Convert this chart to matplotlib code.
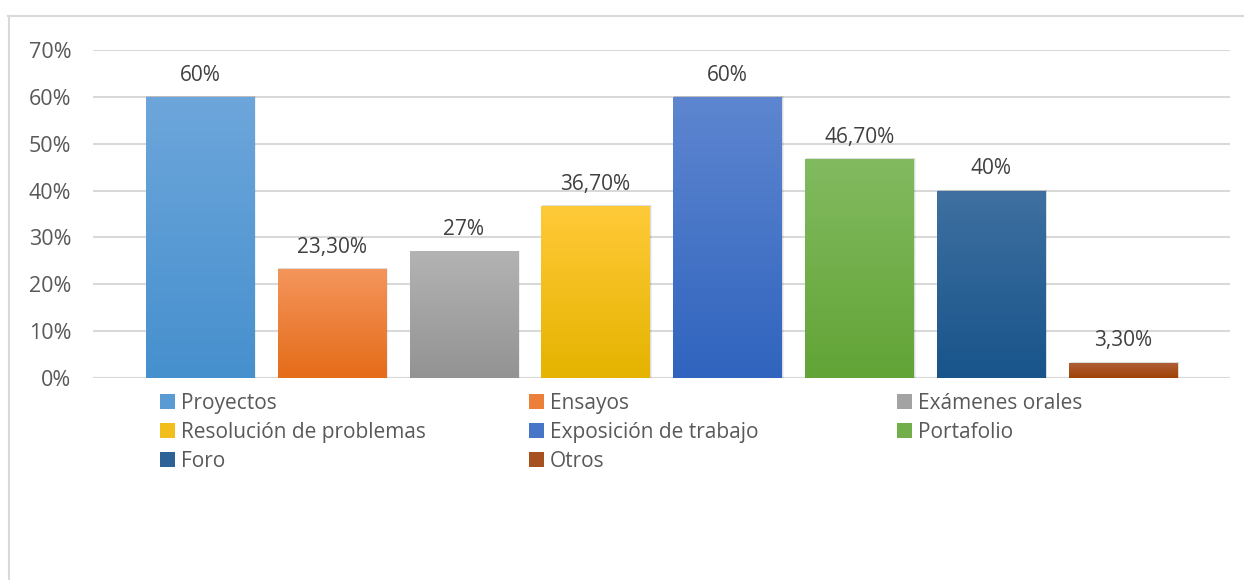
# -*- coding: utf-8 -*-
import matplotlib
matplotlib.use("Agg")
import matplotlib.pyplot as plt
import matplotlib.patches as mpatches
import matplotlib.colors as mcolors
import numpy as np

categorias = ['Proyectos', 'Ensayos', 'Exámenes orales', 'Resolución de problemas',
              'Exposición de trabajo', 'Portafolio', 'Foro', 'Otros']
valores = [0.60, 0.233, 0.27, 0.367, 0.60, 0.467, 0.40, 0.033]
etiquetas = ['60%', '23,30%', '27%', '36,70%', '60%', '46,70%', '40%', '3,30%']
# color arriba / color abajo (degradado estilo Excel)
col_arriba = ['#6DA6DB', '#F4955C', '#B3B3B3', '#FFCA38', '#5E86D0', '#82BA60', '#3F70A1', '#B0603A']
col_abajo = ['#4690CE', '#E56C19', '#939393', '#E5B300', '#3064BE', '#62A436', '#18548A', '#A04205']
ticks_y = [0, 0.1, 0.2, 0.3, 0.4, 0.5, 0.6, 0.7]

plt.rcParams['font.family'] = ['Open Sans', 'DejaVu Sans']
gris = '#595959'

fig = plt.figure(figsize=(12.44, 5.80), dpi=100)
ax = fig.add_axes([93 / 1244, 202 / 580, (1230 - 93) / 1244, (378 - 50) / 580])

x = np.arange(len(categorias))
ancho = 0.82
barras = ax.bar(x, valores, width=ancho, color='none', zorder=3)

for i, b in enumerate(barras):
    x0, h = b.get_x(), b.get_height()
    c1 = np.array(mcolors.to_rgb(col_arriba[i]))
    c2 = np.array(mcolors.to_rgb(col_abajo[i]))
    t = np.linspace(0, 1, 100)[:, None]
    grad = (c1 * (1 - t) + c2 * t)[:, None, :]
    # sombra suave
    for k, a in zip([0.012, 0.007], [0.06, 0.08]):
        ax.add_patch(mpatches.Rectangle((x0 + 0.004, 0), ancho + k, h + 0.002,
                                        color='black', alpha=a, lw=0, zorder=2))
    im = ax.imshow(grad, extent=[x0, x0 + ancho, 0, h], aspect='auto',
                   origin='upper', zorder=3, interpolation='bilinear')
    im.set_clip_path(b)
    ax.annotate(etiquetas[i], (x[i], h), xytext=(0, 8), textcoords='offset points',
                ha='center', va='bottom', fontsize=15, color='#404040')

ax.set_xlim(-0.81, 7.81)
ax.set_ylim(0, 0.7)
ax.set_yticks(ticks_y)
ax.set_yticklabels(['%d%%' % round(v * 100) for v in ticks_y])
ax.tick_params(axis='y', length=0, pad=15.5, labelsize=15.5, labelcolor=gris)
ax.set_xticks([])
ax.grid(axis='y', color='#D9D9D9', lw=1.5, zorder=0)
for s in ax.spines.values():
    s.set_visible(False)
ax.axhline(0, color='#D9D9D9', lw=1.5, zorder=1)

# leyenda en tres columnas
col_leyenda = [mcolors.to_hex((np.array(mcolors.to_rgb(a)) + np.array(mcolors.to_rgb(b))) / 2)
               for a, b in zip(col_arriba, col_abajo)]
handles = [mpatches.Patch(facecolor=col_leyenda[i], label=categorias[i]) for i in range(8)]
cols_x = [160, 529, 897]
for j in range(3):
    hs = handles[j::3]
    leg = fig.legend(handles=hs, loc='upper left',
                     bbox_to_anchor=(cols_x[j] / 1244, 1 - 393 / 580),
                     frameon=False, fontsize=15, handlelength=0.7, handleheight=0.7,
                     handletextpad=0.3, labelspacing=0.38, borderaxespad=0, borderpad=0)
    for txt in leg.get_texts():
        txt.set_color(gris)

# marco del gráfico (solo arriba e izquierda visibles)
fig.add_artist(plt.Line2D([8 / 1244, 1], [1 - 16 / 580, 1 - 16 / 580], color='#D9D9D9', lw=1.5))
fig.add_artist(plt.Line2D([9 / 1244, 9 / 1244], [0, 1 - 16 / 580], color='#D9D9D9', lw=1.5))

fig.savefig('out.png', dpi=100, facecolor='white')
